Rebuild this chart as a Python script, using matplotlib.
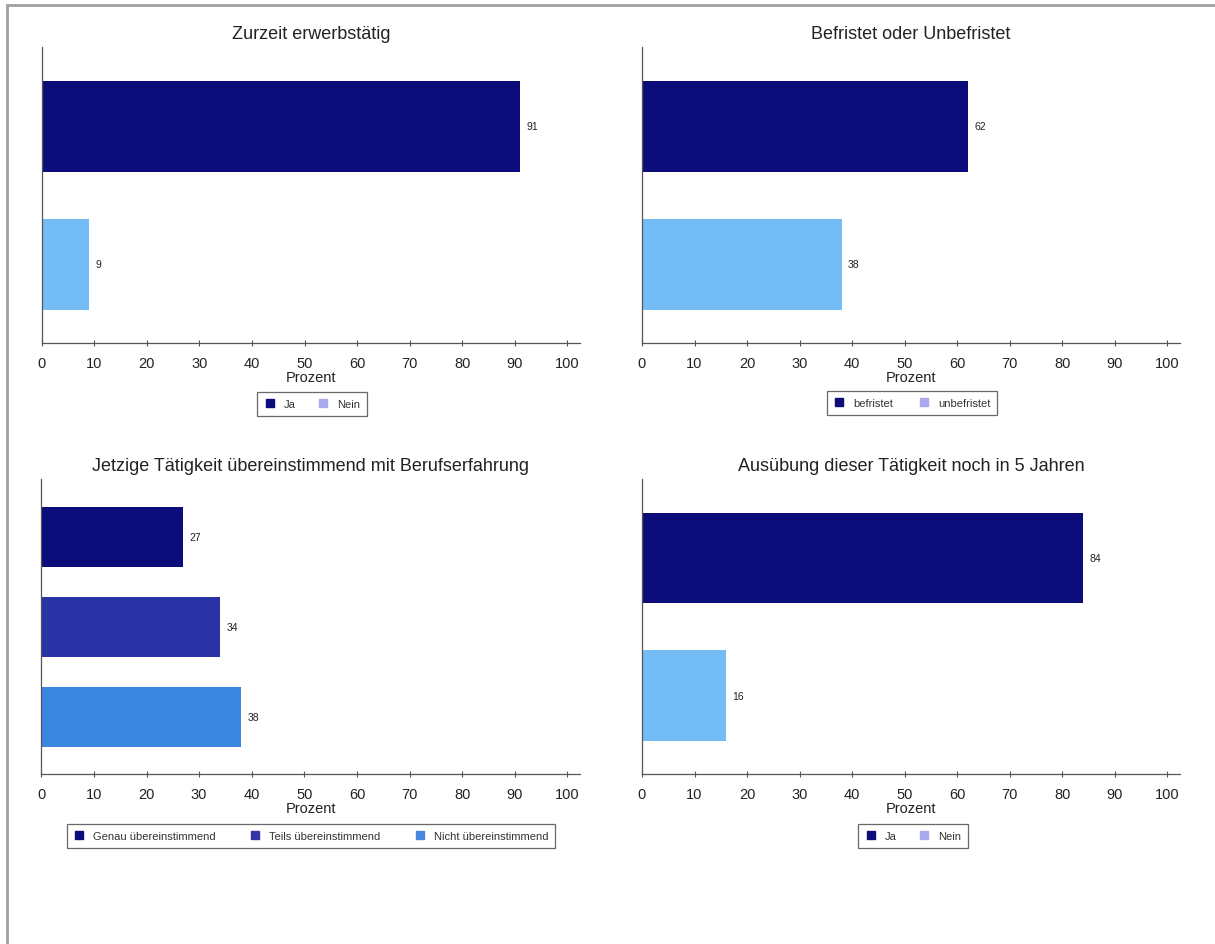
import matplotlib
matplotlib.use("Agg")
import matplotlib.pyplot as plt
from matplotlib.lines import Line2D
from matplotlib.patches import Rectangle

plt.rcParams['font.family'] = ['Liberation Sans', 'DejaVu Sans']

# ---- data ----
titles = ["Zurzeit erwerbstätig", "Befristet oder Unbefristet",
          "Jetzige Tätigkeit übereinstimmend mit Berufserfahrung",
          "Ausübung dieser Tätigkeit noch in 5 Jahren"]
cats_1 = ["Ja", "Nein"]
vals_1 = [91, 9]
cats_2 = ["befristet", "unbefristet"]
vals_2 = [62, 38]
cats_3 = ["Genau übereinstimmend", "Teils übereinstimmend", "Nicht übereinstimmend"]
vals_3 = [27, 34, 38]
cats_4 = ["Ja", "Nein"]
vals_4 = [84, 16]
xticks = [0, 10, 20, 30, 40, 50, 60, 70, 80, 90, 100]
xlabel = "Prozent"

NAVY = '#0c0c7a'
LIGHT = '#74bcf6'
LEG_LIGHT = '#a9a9f0'
bar_cols_2 = [NAVY, LIGHT]
leg_cols_2 = [NAVY, LEG_LIGHT]
bar_cols_3 = [NAVY, '#2a33a6', '#3b87e0']
leg_cols_3 = [NAVY, '#3535a8', '#4a86e0']

W, H = 1215, 945
fig = plt.figure(figsize=(W / 100, H / 100), dpi=100)
fig.patch.set_facecolor('white')

def px_axes(l, r, t, b):
    return fig.add_axes([l / W, 1 - b / H, (r - l) / W, (b - t) / H])

def panel(rect, title, cats, vals, bcols, lcols, leg_center, title_y, colsp):
    l, r, t, b = rect
    ax = px_axes(l, r, t, b)
    n = len(vals)
    ypos = list(range(n))
    if n == 2:
        h = 0.66
        ax.set_ylim(1.57, -0.575)
    else:
        h = 0.667
        ax.set_ylim(2.633, -0.644)
    ax.barh(ypos, vals, height=h, color=bcols, edgecolor='none')
    for y, v in zip(ypos, vals):
        ax.text(v + 1.2, y, f"{v}", va='center', ha='left', fontsize=7.5, color='#222222')
    ax.set_xlim(0, 102.4)
    ax.set_xticks(xticks)
    ax.set_xticklabels([str(x) for x in xticks], fontsize=10.5, color='#222222')
    ax.tick_params(axis='x', direction='inout', length=5, width=0.8, pad=7, colors='#555555',
                   labelcolor='#222222')
    ax.set_yticks([])
    for s in ['top', 'right']:
        ax.spines[s].set_visible(False)
    for s in ['left', 'bottom']:
        ax.spines[s].set_color('#555555')
        ax.spines[s].set_linewidth(0.9)
    ax.set_xlabel(xlabel, fontsize=10.5, labelpad=0, color='#222222')
    fig.text((l + r) / 2 / W, 1 - title_y / H, title, ha='center', va='center',
             fontsize=13, color='#222222')
    handles = [Line2D([], [], marker='s', linestyle='none', markersize=6,
                      markerfacecolor=c, markeredgecolor=c) for c in lcols]
    leg = fig.legend(handles, cats, loc='center',
                     bbox_to_anchor=(leg_center[0] / W, 1 - leg_center[1] / H),
                     ncol=n, fontsize=8, frameon=True, fancybox=False,
                     handlelength=1.0, handletextpad=0.8, columnspacing=colsp,
                     borderpad=0.6, labelcolor='#333333')
    leg.get_frame().set_edgecolor('#444444')
    leg.get_frame().set_linewidth(0.9)
    return ax

panel((41.7, 580, 48, 344), titles[0], cats_1, vals_1, bar_cols_2, leg_cols_2, (312, 405), 35, 1.9)
panel((642, 1180, 48, 344), titles[1], cats_2, vals_2, bar_cols_2, leg_cols_2, (912, 404), 35, 2.2)
panel((41.3, 580, 480, 775), titles[2], cats_3, vals_3, bar_cols_3, leg_cols_3, (311, 837), 467, 3.0)
panel((642, 1180, 480, 775), titles[3], cats_4, vals_4, bar_cols_2, leg_cols_2, (913, 837), 467, 1.9)

# outer frame (gray border top/left)
fig.add_artist(Rectangle((7 / W, -0.1), 1.2, (H - 6) / H + 0.1, transform=fig.transFigure,
                         fill=False, edgecolor='#a0a0a0', linewidth=2))

fig.savefig('out.png', dpi=100, facecolor='white')
